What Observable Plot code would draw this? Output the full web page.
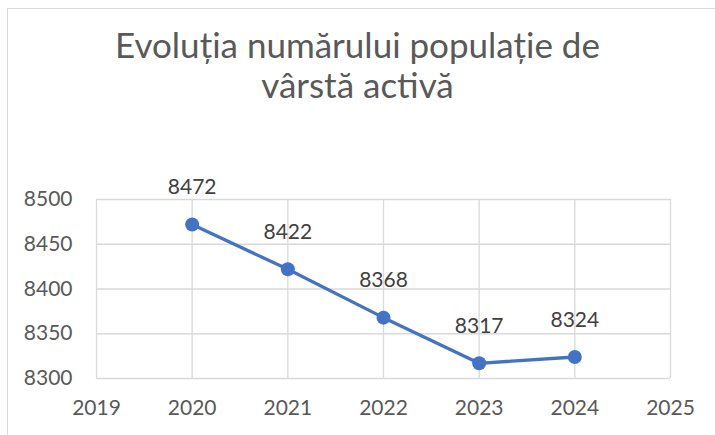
<!DOCTYPE html>
<html>
<head>
<meta charset="utf-8">
<script src="https://cdn.jsdelivr.net/npm/d3@7"></script>
<script src="https://cdn.jsdelivr.net/npm/@observablehq/plot@0.6"></script>
<style>
  html, body { margin: 0; padding: 0; background: #fff; }
  #wrap { position: relative; width: 715px; height: 435px; overflow: hidden; font-family: Lato, sans-serif; }
  #frame { position: absolute; left: 7px; top: 8px; width: 800px; height: 600px; border-top: 1px solid #d9d9d9; border-left: 1px solid #d9d9d9; }
  #title { position: relative; height: 130px; text-align: center; color: #595959; font-size: 35px; line-height: 40px; padding-top: 24px; box-sizing: border-box; }
  #chart { position: relative; }
</style>
</head>
<body>
<div id="wrap">
  <div id="frame"></div>
  <div id="title">Evoluția numărului populație de<br>vârstă activă</div>
  <div id="chart"></div>
</div>
<script>
const years = [2020, 2021, 2022, 2023, 2024];
const values = [8472, 8422, 8368, 8317, 8324];
const xTicks = [2019, 2020, 2021, 2022, 2023, 2024, 2025];
const yTicks = [8300, 8350, 8400, 8450, 8500];

const data = years.map((y, i) => ({year: y, value: values[i]}));

const plot = Plot.plot({
  width: 715,
  height: 305,
  marginLeft: 96,
  marginRight: 45,
  marginTop: 69,
  marginBottom: 57,
  style: {fontFamily: "Lato, sans-serif", fontSize: "21px", color: "#595959", background: "transparent", overflow: "visible"},
  x: {domain: [2019, 2025]},
  y: {domain: [8300, 8500]},
  marks: [
    Plot.gridX(xTicks, {stroke: "#d9d9d9", strokeOpacity: 1, strokeWidth: 1.3}),
    Plot.gridY(yTicks, {stroke: "#d9d9d9", strokeOpacity: 1, strokeWidth: 1.3}),
    Plot.axisX(xTicks, {tickSize: 0, tickPadding: 22, tickFormat: d => String(d), label: null, fontSize: 21}),
    Plot.axisY(yTicks, {tickSize: 0, tickPadding: 24, tickFormat: d => String(d), label: null, fontSize: 21}),
    Plot.line(data, {x: "year", y: "value", stroke: "#4472C4", strokeWidth: 3.3}),
    Plot.dot(data, {x: "year", y: "value", r: 7, fill: "#4472C4", stroke: "none"}),
    Plot.text(data, {x: "year", y: "value", text: d => String(d.value), dy: -37, fill: "#404040", fontSize: 21})
  ]
});
document.getElementById("chart").appendChild(plot);
</script>
</body>
</html>
